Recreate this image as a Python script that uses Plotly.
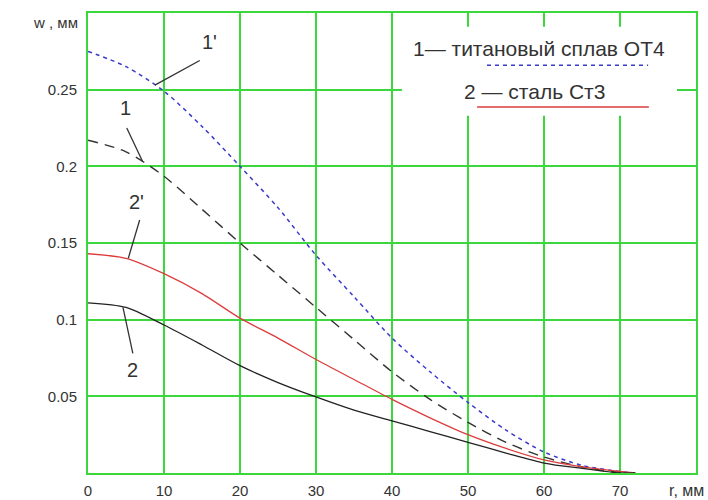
import plotly.graph_objects as go

r = [0, 5, 10, 15, 20, 25, 30, 35, 40, 45, 50, 55, 60, 65, 70, 72]
w_1p = [0.275, 0.265, 0.249, 0.226, 0.200, 0.173, 0.142, 0.115, 0.088, 0.066, 0.046, 0.028, 0.0137, 0.005, 0.001, 0.0]
w_1 = [0.217, 0.2095, 0.1935, 0.172, 0.150, 0.129, 0.108, 0.087, 0.066, 0.048, 0.033, 0.020, 0.0104, 0.004, 0.0005, 0.0]
w_2p = [0.143, 0.140, 0.130, 0.117, 0.101, 0.088, 0.074, 0.061, 0.048, 0.036, 0.025, 0.016, 0.0085, 0.004, 0.001, 0.0]
w_2 = [0.111, 0.108, 0.0965, 0.0835, 0.070, 0.059, 0.0496, 0.041, 0.034, 0.027, 0.020, 0.013, 0.0065, 0.003, 0.0, 0.0]

x_ticks = [0, 10, 20, 30, 40, 50, 60, 70]
y_ticks = [0.05, 0.1, 0.15, 0.2, 0.25]
y_tick_labels = ["0.05", "0.1", "0.15", "0.2", "0.25"]

GREEN = "rgb(60,215,60)"
TXT = "#333333"
FONT = "Liberation Sans"

fig = go.Figure()
fig.add_trace(go.Scatter(x=r, y=w_1p, mode="lines", line=dict(color="#3a3acc", width=1.5, dash="4px,4px", shape="spline", smoothing=0.8)))
fig.add_trace(go.Scatter(x=r, y=w_1, mode="lines", line=dict(color="#333333", width=1.4, dash="10px,7px", shape="spline", smoothing=0.8)))
fig.add_trace(go.Scatter(x=r, y=w_2p, mode="lines", line=dict(color="#dd3c3c", width=1.3, shape="spline", smoothing=0.8)))
fig.add_trace(go.Scatter(x=r, y=w_2, mode="lines", line=dict(color="#222222", width=1.3, shape="spline", smoothing=0.8)))

shapes = []
# white box behind legend text
shapes.append(dict(type="rect", xref="x", yref="y", x0=41.3, x1=77.5, y0=0.233, y1=0.291,
                   fillcolor="white", line=dict(width=0), layer="above"))
# legend sample lines
shapes.append(dict(type="line", xref="x", yref="y", x0=52.5, x1=73.7, y0=0.266, y1=0.266,
                   line=dict(color="#3a3acc", width=1.5, dash="4px,4px"), layer="above"))
shapes.append(dict(type="line", xref="x", yref="y", x0=51.2, x1=73.8, y0=0.2387, y1=0.2387,
                   line=dict(color="#dd3c3c", width=1.4), layer="above"))
# leader lines
leaders = [
    (14.7, 0.269, 8.8, 0.253),
    (5.1, 0.225, 7.2, 0.203),
    (6.8, 0.165, 5.3, 0.140),
    (5.9, 0.078, 4.6, 0.108),
]
for x0, y0, x1, y1 in leaders:
    shapes.append(dict(type="line", xref="x", yref="y", x0=x0, y0=y0, x1=x1, y1=y1,
                       line=dict(color="#333333", width=1.3), layer="above"))

lab = dict(size=20, color=TXT, family=FONT)
annotations = [
    dict(x=16.0, y=0.281, text="1'", showarrow=False, font=lab),
    dict(x=4.9, y=0.238, text="1", showarrow=False, font=lab),
    dict(x=6.4, y=0.177, text="2'", showarrow=False, font=lab),
    dict(x=5.9, y=0.067, text="2", showarrow=False, font=lab),
    dict(x=59.3, y=0.277, text="1— титановый сплав ОТ4", showarrow=False,
         font=dict(size=21, color=TXT, family=FONT)),
    dict(x=58.7, y=0.2485, text="2 — сталь Ст3", showarrow=False,
         font=dict(size=21, color=TXT, family=FONT)),
    dict(xref="paper", yref="y", x=0, y=0.3, xanchor="right", yanchor="middle", xshift=-8, yshift=-9,
         text="w , мм", showarrow=False, font=dict(size=15, color=TXT, family=FONT)),
    dict(xref="paper", yref="y", x=1, y=0, xanchor="right", yanchor="top", xshift=10, yshift=-7,
         text="r, мм", showarrow=False, font=dict(size=16, color=TXT, family=FONT)),
]

fig.update_layout(
    width=708, height=500,
    margin=dict(l=88, r=12, t=13, b=27, autoexpand=False),
    paper_bgcolor="white", plot_bgcolor="white",
    showlegend=False,
    shapes=shapes, annotations=annotations,
    font=dict(family=FONT, color=TXT),
)
fig.update_xaxes(range=[0, 80], tickvals=x_ticks, ticktext=[str(v) for v in x_ticks],
                 showgrid=True, gridcolor=GREEN, gridwidth=2, zeroline=False,
                 showline=True, linecolor=GREEN, linewidth=2, mirror=True,
                 tickfont=dict(size=15, color=TXT), ticks="", ticklabelstandoff=3)
fig.update_yaxes(range=[0, 0.3], tickvals=y_ticks, ticktext=y_tick_labels,
                 showgrid=True, gridcolor=GREEN, gridwidth=2, zeroline=False,
                 showline=True, linecolor=GREEN, linewidth=2, mirror=True,
                 tickfont=dict(size=15, color=TXT), ticks="", ticklabelstandoff=6)

fig.write_html("out.html", config={"displayModeBar": False},
               post_script="document.body.style.margin='0px';document.body.style.overflow='hidden';")
